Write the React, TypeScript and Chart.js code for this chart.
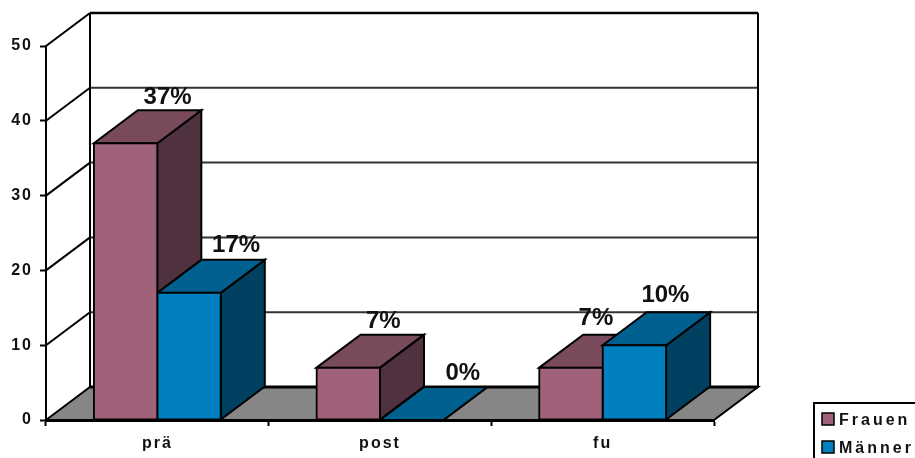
import React, { useEffect, useRef } from "react";
import { Chart, registerables } from "chart.js";

Chart.register(...registerables);

const categories = ["prä", "post", "fu"];
const frauen = [37, 7, 7];
const maenner = [17, 0, 10];
const seriesNames = ["Frauen", "Männer"];

// Face colours per series: front, top, side
const frontColors = ["#a0627a", "#0080c0"];
const topColors = ["#784a5c", "#006090"];
const sideColors = ["#503140", "#004060"];

const DEPTH_X = 44;
const DEPTH_Y = 33;
const FONT = "'Liberation Sans', Arial, sans-serif";

// Placement of each value label relative to the top-centre of its bar
const labelNudges = [
  [{ dx: 42, dy: -39 }, { dx: 35, dy: -40 }, { dx: 25, dy: -43 }],
  [{ dx: 47, dy: -41 }, { dx: 51, dy: -40 }, { dx: 31, dy: -43 }],
];

function polygon(ctx: CanvasRenderingContext2D, pts: number[][], fill?: string) {
  ctx.beginPath();
  pts.forEach(([x, y], i) => (i ? ctx.lineTo(x, y) : ctx.moveTo(x, y)));
  ctx.closePath();
  if (fill) {
    ctx.fillStyle = fill;
    ctx.fill();
  }
  ctx.stroke();
}

function line(ctx: CanvasRenderingContext2D, pts: number[][]) {
  ctx.beginPath();
  pts.forEach(([x, y], i) => (i ? ctx.lineTo(x, y) : ctx.moveTo(x, y)));
  ctx.stroke();
}

// Back wall, side wall lines, floor and the extruded faces of every bar
const scene3d = {
  id: "scene3d",
  beforeDraw(chart: any) {
    chart.ctx.letterSpacing = "2px";
  },
  beforeDatasetsDraw(chart: any) {
    const { ctx, scales } = chart;
    const { x: xs, y: ys } = scales;
    const left = xs.left;
    const right = xs.right;
    const zero = ys.getPixelForValue(0);
    const top = ys.getPixelForValue(ys.max);
    ctx.save();
    ctx.lineJoin = "miter";
    ctx.strokeStyle = "#000";
    ctx.lineWidth = 2;

    polygon(
      ctx,
      [
        [left, zero],
        [left + DEPTH_X, zero - DEPTH_Y],
        [right + DEPTH_X, zero - DEPTH_Y],
        [right, zero],
      ],
      "#868686"
    );
    ctx.lineWidth = 3;
    line(ctx, [[left + DEPTH_X, zero - DEPTH_Y], [right + DEPTH_X, zero - DEPTH_Y]]);
    ctx.lineWidth = 2;

    ys.ticks.forEach((t: any) => {
      if (t.value === 0) return;
      const y = ys.getPixelForValue(t.value);
      ctx.strokeStyle = "#000";
      line(ctx, [[left, y], [left + DEPTH_X, y - DEPTH_Y]]);
      const isTop = t.value === ys.max;
      ctx.strokeStyle = isTop ? "#000" : "#333";
      ctx.lineWidth = isTop ? 2.5 : 2;
      line(ctx, [[left + DEPTH_X, y - DEPTH_Y], [right + DEPTH_X, y - DEPTH_Y]]);
      ctx.lineWidth = 2;
    });

    ctx.strokeStyle = "#000";
    line(ctx, [[left + DEPTH_X, top - DEPTH_Y], [left + DEPTH_X, zero - DEPTH_Y]]);
    line(ctx, [[right + DEPTH_X, top - DEPTH_Y], [right + DEPTH_X, zero - DEPTH_Y]]);

    chart.data.datasets.forEach((_: any, d: number) => {
      chart.getDatasetMeta(d).data.forEach((bar: any) => {
        const x0 = bar.x - bar.width / 2;
        const x1 = bar.x + bar.width / 2;
        polygon(
          ctx,
          [
            [x1, bar.y],
            [x1 + DEPTH_X, bar.y - DEPTH_Y],
            [x1 + DEPTH_X, bar.base - DEPTH_Y],
            [x1, bar.base],
          ],
          sideColors[d]
        );
        polygon(
          ctx,
          [
            [x0, bar.y],
            [x0 + DEPTH_X, bar.y - DEPTH_Y],
            [x1 + DEPTH_X, bar.y - DEPTH_Y],
            [x1, bar.y],
          ],
          topColors[d]
        );
      });
    });
    ctx.restore();
  },
  afterDatasetsDraw(chart: any) {
    const { ctx } = chart;
    ctx.save();
    ctx.letterSpacing = "0px";
    ctx.font = `bold 24px ${FONT}`;
    ctx.fillStyle = "#111";
    ctx.textAlign = "center";
    ctx.textBaseline = "alphabetic";
    chart.data.datasets.forEach((ds: any, d: number) => {
      chart.getDatasetMeta(d).data.forEach((bar: any, i: number) => {
        const n = labelNudges[d][i];
        ctx.fillText(`${ds.data[i]}%`, bar.x + n.dx, bar.y + n.dy);
      });
    });
    ctx.restore();
  },
  afterDraw(chart: any) {
    // Legend frame runs past the edge of the canvas
    const { ctx } = chart;
    ctx.save();
    ctx.strokeStyle = "#000";
    ctx.lineWidth = 2;
    ctx.strokeRect(814, 403, 200, 100);
    ctx.font = `bold 16px ${FONT}`;
    ctx.letterSpacing = "3px";
    ctx.textBaseline = "alphabetic";
    ctx.textAlign = "left";
    chart.data.datasets.forEach((ds: any, d: number) => {
      const y = 413 + d * 28;
      ctx.fillStyle = frontColors[d];
      ctx.fillRect(822, y, 12, 12);
      ctx.lineWidth = 1.5;
      ctx.strokeRect(822, y, 12, 12);
      ctx.fillStyle = "#111";
      ctx.fillText(ds.label, 839, y + 12);
    });
    ctx.restore();
  },
};

export default function App() {
  const ref = useRef<HTMLCanvasElement>(null);

  useEffect(() => {
    const chart = new Chart(ref.current!, {
      type: "bar",
      data: {
        labels: categories,
        datasets: [frauen, maenner].map((values, d) => ({
          label: seriesNames[d],
          data: values,
          backgroundColor: frontColors[d],
          borderColor: "#000",
          borderWidth: 2,
          borderSkipped: false,
          inflateAmount: 1,
          barPercentage: 1,
          categoryPercentage: 0.57,
        })),
      },
      options: {
        responsive: false,
        animation: false,
        events: [],
        layout: { padding: { left: 0, top: 46, right: 201, bottom: 0 } },
        plugins: { legend: { display: false }, tooltip: { enabled: false } },
        scales: {
          x: {
            afterFit: (s: any) => {
              s.height = 38;
            },
            border: { color: "#000", width: 3, z: 1 },
            grid: {
              drawOnChartArea: false,
              drawTicks: true,
              tickLength: 6,
              tickColor: "#000",
              tickWidth: 2,
            },
            ticks: {
              color: "#111",
              maxRotation: 0,
              padding: 8,
              font: { family: FONT, size: 16, weight: "bold" },
            },
          },
          y: {
            min: 0,
            max: 50,
            afterFit: (s: any) => {
              s.width = 46;
            },
            border: { color: "#000", width: 2, z: 1 },
            grid: {
              drawOnChartArea: false,
              drawTicks: true,
              tickLength: 6,
              tickColor: "#000",
              tickWidth: 2,
            },
            ticks: {
              stepSize: 10,
              color: "#111",
              padding: 7,
              font: { family: FONT, size: 16, weight: "bold" },
            },
          },
        },
      },
      plugins: [scene3d],
    } as any);
    return () => chart.destroy();
  }, []);

  return (
    <div style={{ position: "absolute", left: 0, top: 0, width: 915, height: 458, overflow: "hidden", background: "#fff" }}>
      <canvas ref={ref} width={915} height={458} style={{ display: "block" }} />
    </div>
  );
}
